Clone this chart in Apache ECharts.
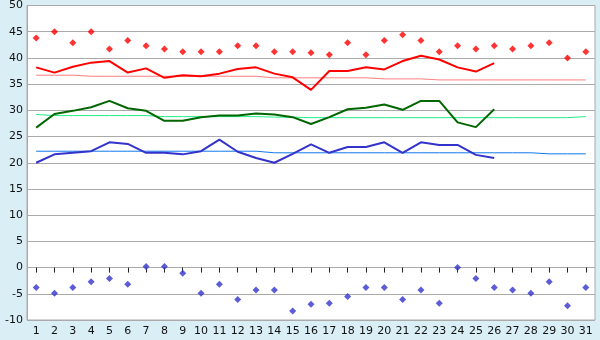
<!DOCTYPE html>
<html>
<head>
<meta charset="utf-8">
<script src="https://cdn.jsdelivr.net/npm/echarts@6/dist/echarts.min.js"></script>
<style>
  html, body { margin: 0; padding: 0; background: #daeef5; }
  #chart { width: 600px; height: 340px; }
</style>
</head>
<body>
<div id="chart"></div>
<script>
// 日期
const days = [];
for (let i = 1; i <= 31; i++) days.push(String(i));

// 历史最高
const recordHigh = [43.8, 45.0, 42.9, 45.0, 41.7, 43.3, 42.3, 41.7, 41.2, 41.2, 41.2, 42.3, 42.3, 41.2, 41.2,
  41.0, 40.6, 42.9, 40.6, 43.3, 44.4, 43.3, 41.2, 42.3, 41.7, 42.3, 41.7, 42.3, 42.9, 40.0, 41.2];
// 最高气温
const dailyMax = [38.2, 37.2, 38.3, 39.1, 39.4, 37.2, 38.0, 36.2, 36.7, 36.5, 37.0, 37.9, 38.2, 37.0, 36.3,
  33.9, 37.5, 37.5, 38.2, 37.8, 39.4, 40.4, 39.7, 38.2, 37.4, 39.0];
// 平均最高
const avgMax = [36.7, 36.7, 36.7, 36.5, 36.5, 36.5, 36.5, 36.5, 36.5, 36.5, 36.5, 36.5, 36.5, 36.2, 36.2,
  36.2, 36.2, 36.2, 36.2, 36.0, 36.0, 36.0, 35.8, 35.8, 35.8, 35.8, 35.8, 35.8, 35.8, 35.8, 35.8];
// 平均气温
const dailyMean = [26.7, 29.3, 29.9, 30.6, 31.8, 30.4, 29.9, 28.0, 28.0, 28.7, 29.0, 29.0, 29.4, 29.2, 28.7,
  27.4, 28.7, 30.2, 30.5, 31.1, 30.1, 31.8, 31.8, 27.7, 26.8, 30.2];
// 常年平均
const avgMean = [29.2, 29.0, 29.0, 29.0, 29.0, 29.0, 29.0, 28.8, 28.8, 28.8, 28.8, 28.8, 28.8, 28.7, 28.7,
  28.6, 28.6, 28.6, 28.6, 28.6, 28.6, 28.6, 28.6, 28.6, 28.6, 28.6, 28.6, 28.6, 28.6, 28.6, 28.8];
// 最低气温
const dailyMin = [20.0, 21.6, 21.9, 22.2, 23.9, 23.6, 21.9, 21.9, 21.6, 22.2, 24.4, 22.1, 20.9, 20.0, 21.7,
  23.5, 21.9, 23.0, 23.0, 23.9, 21.9, 23.9, 23.4, 23.4, 21.5, 20.9];
// 平均最低
const avgMin = [22.2, 22.2, 22.2, 22.2, 22.2, 22.2, 22.2, 22.2, 22.2, 22.2, 22.2, 22.2, 22.2, 21.9, 21.9,
  21.9, 21.9, 21.9, 21.9, 21.9, 21.9, 21.9, 21.9, 21.9, 21.9, 21.9, 21.9, 21.9, 21.7, 21.7, 21.7];
// 历史最低
const recordLow = [-3.8, -4.9, -3.8, -2.7, -2.1, -3.2, 0.2, 0.2, -1.1, -4.9, -3.2, -6.1, -4.3, -4.3, -8.3,
  -7.0, -6.8, -5.5, -3.8, -3.8, -6.1, -4.3, -6.8, 0.0, -2.1, -3.8, -4.3, -4.9, -2.7, -7.3, -3.8];

const chart = echarts.init(document.getElementById('chart'));

function lineSeries(data, color, width) {
  return {
    type: 'line',
    data: data,
    symbol: 'none',
    lineStyle: { color: color, width: width },
    animation: false
  };
}

function dotSeries(data, color) {
  return {
    type: 'scatter',
    data: data,
    symbol: 'diamond',
    symbolSize: 7,
    itemStyle: { color: color },
    animation: false
  };
}

chart.setOption({
  backgroundColor: '#daeef5',
  grid: {
    left: 27, right: 5, top: 5, bottom: 20,
    show: true, backgroundColor: '#fff', borderColor: '#aaa', borderWidth: 1
  },
  xAxis: {
    type: 'category',
    data: days,
    boundaryGap: true,
    axisLine: { show: false },
    axisTick: { show: true, alignWithLabel: true, length: 5, lineStyle: { color: '#222' } },
    axisLabel: { color: '#111', fontFamily: 'DejaVu Sans', fontSize: 11, margin: 6, interval: 0 },
    splitLine: { show: false }
  },
  yAxis: {
    type: 'value',
    min: -10,
    max: 50,
    interval: 5,
    axisLine: { show: true, lineStyle: { color: '#aaa' } },
    axisTick: { show: false },
    axisLabel: { color: '#111', fontFamily: 'DejaVu Sans', fontSize: 11, margin: 4 },
    splitLine: { show: true, lineStyle: { color: '#aaa', width: 1 } }
  },
  series: [
    lineSeries(avgMax, '#ff7f7f', 1),
    lineSeries(avgMean, '#22ee88', 1),
    lineSeries(avgMin, '#1177ee', 1),
    lineSeries(dailyMax, '#ff0000', 2),
    lineSeries(dailyMean, '#006600', 2),
    lineSeries(dailyMin, '#3333cc', 2),
    dotSeries(recordHigh, '#ff0000'),
    dotSeries(recordLow, '#3333cc')
  ]
});

window.addEventListener('resize', function () {
  chart.resize();
});
</script>
</body>
</html>
